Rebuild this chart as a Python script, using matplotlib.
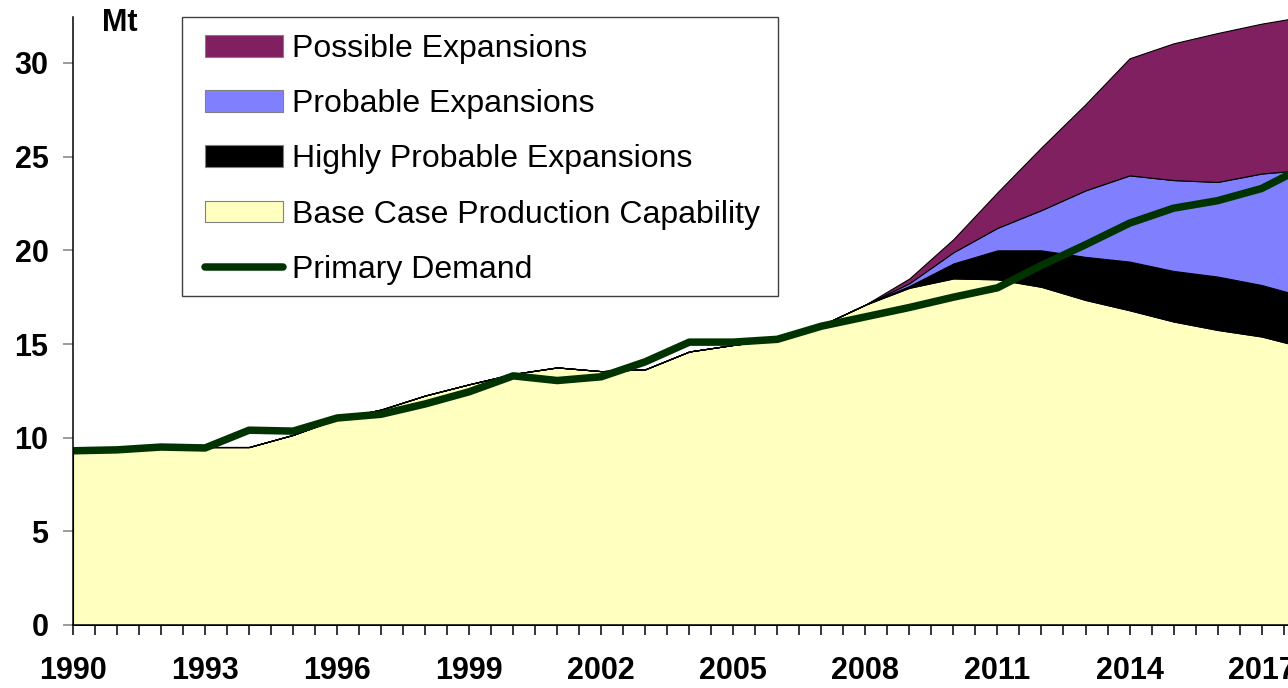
import matplotlib
matplotlib.use("Agg")
import matplotlib.pyplot as plt
import numpy as np
from matplotlib.lines import Line2D
from matplotlib.patches import Patch, Rectangle

plt.rcParams["font.family"] = ["Liberation Sans", "DejaVu Sans"]

# * Data (Mt)
years = list(range(1990, 2019))
base_case = [9.3, 9.35, 9.45, 9.5, 9.5, 10.15, 11.0, 11.5, 12.25, 12.85,
             13.4, 13.75, 13.55, 13.65, 14.6, 14.95, 15.25, 16.0, 17.1, 18.0,
             18.5, 18.45, 18.05, 17.35, 16.8, 16.2, 15.75, 15.4, 14.8]
highly_probable = [0] * 19 + [0.1, 0.8, 1.55, 1.95, 2.3, 2.6, 2.7, 2.85, 2.75, 2.7]
probable = [0] * 19 + [0.15, 0.6, 1.2, 2.15, 3.55, 4.6, 4.85, 5.05, 5.95, 6.8]
possible = [0] * 19 + [0.25, 0.7, 1.9, 3.35, 4.6, 6.25, 7.3, 7.95, 8.0, 8.2]
primary_demand = [9.3, 9.35, 9.5, 9.45, 10.4, 10.35, 11.05, 11.25, 11.8, 12.45,
                  13.3, 13.05, 13.25, 14.05, 15.1, 15.1, 15.25, 15.95, 16.45, 16.95,
                  17.5, 18.0, 19.2, 20.3, 21.45, 22.25, 22.65, 23.3, 24.5]

labels = ["Possible Expansions", "Probable Expansions",
          "Highly Probable Expansions", "Base Case Production Capability",
          "Primary Demand"]
col_possible = "#802060"
col_probable = "#8080FF"
col_high = "#000000"
col_base = "#FFFFC0"
col_demand = "#003300"

W, H = 1288, 688
fig = plt.figure(figsize=(W / 100, H / 100), dpi=100)
ax = fig.add_axes([73 / W, 63 / H, 1 - 73 / W, (625 - 17) / H])

ax.stackplot(years, base_case, highly_probable, probable, possible,
             colors=[col_base, col_high, col_probable, col_possible],
             edgecolor="black", linewidth=0.8)
ax.plot(years, primary_demand, color=col_demand, lw=5.4, solid_joinstyle="round")

ax.set_xlim(1990, 2017.6)
ax.set_ylim(0, (625 - 17) / ((625 - 63) / 30))

for s in ["top", "right"]:
    ax.spines[s].set_visible(False)
for s in ["left", "bottom"]:
    ax.spines[s].set_linewidth(1.1)
    ax.spines[s].set_color("black")

ax.set_yticks(range(0, 31, 5))
ax.set_yticklabels([str(v) for v in range(0, 31, 5)], fontsize=22, fontweight="bold")
ax.tick_params(axis="y", direction="out", length=7.2, width=1.1, color="#808080", pad=10.5)

xt = np.arange(1990, 2018, 0.5)
ax.set_xticks(xt)
ax.set_xticklabels([str(int(t)) if (t == int(t) and (int(t) - 1990) % 3 == 0) else ""
                    for t in xt], fontsize=22, fontweight="bold")
ax.tick_params(axis="x", direction="out", length=7.2, width=1.1, color="black", pad=15)

fig.text(120 / W, 1 - 23 / H, "Mt", fontsize=22, fontweight="bold",
         ha="center", va="center")

# * Legend with a hand-drawn frame
handles = [Patch(facecolor=col_possible, edgecolor="#808080", lw=0.8),
           Patch(facecolor=col_probable, edgecolor="#808080", lw=0.8),
           Patch(facecolor=col_high, edgecolor="#808080", lw=0.8),
           Patch(facecolor=col_base, edgecolor="#808080", lw=0.8),
           Line2D([], [], color=col_demand, lw=5.4, solid_capstyle="round")]
fig.legend(handles, labels, loc="upper left",
           bbox_to_anchor=(205 / W, 1 - 34 / H), frameon=False,
           fontsize=23, borderpad=0, borderaxespad=0,
           handlelength=2.44, handleheight=0.66, handletextpad=0.28,
           labelspacing=0.79)
fig.patches.append(Rectangle((182 / W, 1 - 296 / H), (778 - 182) / W, (296 - 17) / H,
                             transform=fig.transFigure, fill=False,
                             edgecolor="#404040", lw=1.0))

fig.savefig("out.png", dpi=100)
